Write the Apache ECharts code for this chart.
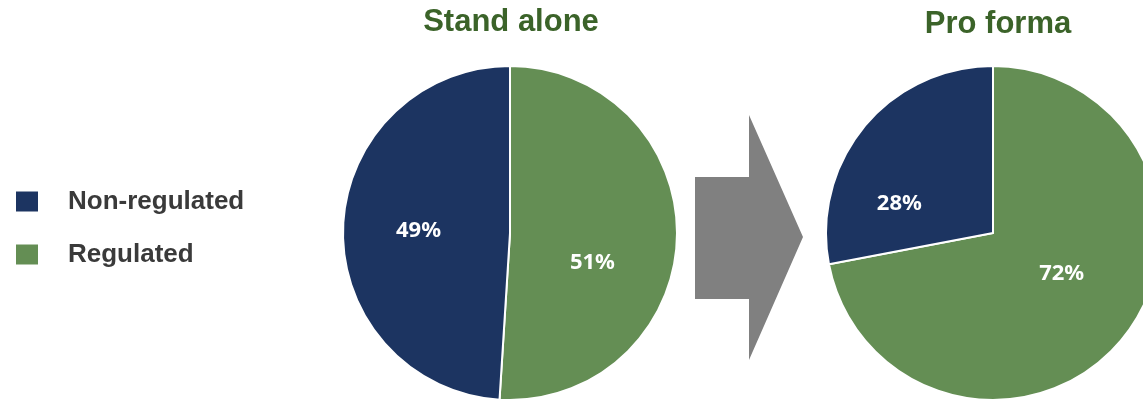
<!DOCTYPE html>
<html>
<head>
<meta charset="utf-8">
<script src="https://cdn.jsdelivr.net/npm/echarts@6/dist/echarts.min.js"></script>
<style>
html,body{margin:0;padding:0;background:#fff;}
#chart{width:1143px;height:401px;}
</style>
</head>
<body>
<div id="chart"></div>
<script>
// Data
const categories = ['Regulated', 'Non-regulated'];
const legendOrder = ['Non-regulated', 'Regulated'];
const standAloneValues = [51, 49];
const proFormaValues = [72, 28];
const chartTitles = ['Stand alone', 'Pro forma'];

const COLORS = { 'Regulated': '#648e54', 'Non-regulated': '#1c3461' };
const TITLE_GREEN = '#3b6329';

// label nudges (style only)
const standOffsets = [[-4, 27], [-5, 0]];
const proOffsets = [[2, -14], [-27, 26]];

function buildData(values, offsets) {
  return categories.map((name, i) => ({
    name: name,
    value: values[i],
    itemStyle: { color: COLORS[name] },
    label: { offset: offsets[i] }
  }));
}

const pieCommon = {
  type: 'pie',
  radius: 167,
  startAngle: 90,
  clockwise: true,
  avoidLabelOverlap: false,
  silent: true,
  animation: false,
  itemStyle: { borderColor: '#ffffff', borderWidth: 2 },
  label: {
    show: true,
    position: 'inside',
    formatter: '{c}%',
    color: '#ffffff',
    fontFamily: 'Noto Sans',
    fontWeight: 'bold',
    fontSize: 22
  },
  labelLine: { show: false },
  emphasis: { disabled: true }
};

const chart = echarts.init(document.getElementById('chart'), null, { renderer: 'canvas' });
chart.setOption({
  animation: false,
  backgroundColor: '#ffffff',
  title: [
    {
      text: chartTitles[0], left: 511, top: 7, textAlign: 'center', padding: 0,
      textStyle: { color: TITLE_GREEN, fontFamily: 'Liberation Sans', fontWeight: 'bold', fontSize: 31 }
    },
    {
      text: chartTitles[1], left: 998, top: 9, textAlign: 'center', padding: 0,
      textStyle: { color: TITLE_GREEN, fontFamily: 'Liberation Sans', fontWeight: 'bold', fontSize: 31 }
    }
  ],
  legend: {
    data: legendOrder,
    orient: 'vertical',
    left: 14,
    top: 188.5,
    padding: 0,
    icon: 'rect',
    itemWidth: 24,
    itemHeight: 22,
    itemGap: 27,
    selectedMode: false,
    textStyle: {
      color: '#3a3a3a',
      fontFamily: 'Liberation Sans',
      fontWeight: 'bold',
      fontSize: 26,
      padding: [0, 0, 0, 24]
    }
  },
  graphic: [
    {
      type: 'polygon',
      silent: true,
      shape: {
        points: [[695, 177], [749, 177], [749, 115], [803, 237], [749, 360], [749, 299], [695, 299]]
      },
      style: { fill: '#808080' }
    }
  ],
  series: [
    Object.assign({}, pieCommon, {
      name: chartTitles[0],
      center: [510, 233],
      data: buildData(standAloneValues, standOffsets)
    }),
    Object.assign({}, pieCommon, {
      name: chartTitles[1],
      center: [993, 233],
      data: buildData(proFormaValues, proOffsets)
    })
  ]
});
</script>
</body>
</html>
